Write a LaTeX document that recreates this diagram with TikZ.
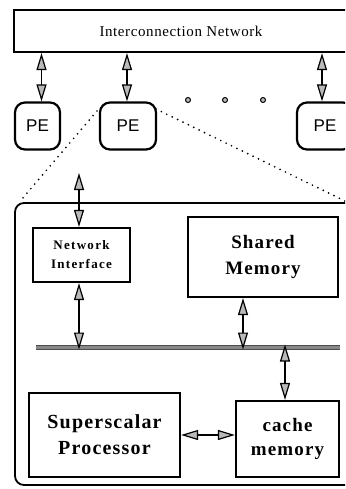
\documentclass[tikz,border=0pt]{standalone}
\usepackage{fontspec}
\usetikzlibrary{arrows.meta,calc}
\newfontfamily\netfont[LetterSpace=4]{Liberation Serif}
\newfontfamily\pefont{Liberation Sans}
\newfontfamily\boxfont[LetterSpace=6]{Liberation Serif}
\newfontfamily\smallboxfont[LetterSpace=10]{Liberation Serif}

\tikzset{
  unitbox/.style={draw, line width=2.2pt, inner sep=0pt, align=center},
  pebox/.style={unitbox, rounded corners=10pt, minimum height=47pt,
    font=\pefont\fontsize{17}{19}\selectfont},
  dbl/.style={{Triangle[length=17pt,width=10pt,fill=gray!55]}-{Triangle[length=17pt,width=10pt,fill=gray!55]}, line width=1.2pt},
  zoomline/.style={line width=1.9pt, line cap=round, dash pattern=on 0pt off 6pt},
  etc/.style={circle, draw, line width=1pt, fill=gray!55, inner sep=0pt, minimum size=5pt}
}

\begin{document}
\begin{tikzpicture}[x=1pt,y=-1pt]
\clip (0,0) rectangle (345,489);
\fill[white] (0,0) rectangle (345,489);

% interconnection network and processing elements
\node[unitbox, minimum width=334pt, minimum height=42pt,
      font=\netfont\fontsize{15}{17}\selectfont] (net) at (181,31) {Interconnection Network};
\node[pebox, minimum width=45pt] (pe1) at (37.5,126) {PE};
\node[pebox, minimum width=56pt] (pe2) at (128,126) {PE};
\node[pebox, minimum width=56pt] (pe3) at (325,126) {PE};

\node[etc] (d1) at (188,100) {};
\node[etc] (d2) at (225,100) {};
\node[etc] (d3) at (263,100) {};

\draw[dbl] ([xshift=4pt]pe1.north |- net.south) -- ([xshift=4pt]pe1.north);
\draw[dbl] ([xshift=-1pt]pe2.north |- net.south) -- ([xshift=-1pt]pe2.north);
\draw[dbl] ([xshift=-3pt]pe3.north |- net.south) -- ([xshift=-3pt]pe3.north);

% enlarged view of one processing element
\coordinate (zl) at (97,111);
\coordinate (zr) at (156,109);
\coordinate (zlend) at (22,199);
\coordinate (zrend) at (345,201);
\draw[zoomline] (zl) -- (zlend);
\draw[zoomline] (zr) -- (zrend);

\draw[line width=1.8pt, rounded corners=9pt] (352,203) -- (15,203) -- (15,485) -- (352,485);

\node[unitbox, minimum width=97pt, minimum height=54pt,
      font=\smallboxfont\bfseries\fontsize{13}{19}\selectfont] (ni) at (81.5,255) {Network\\Interface};
\node[unitbox, minimum width=150pt, minimum height=80pt,
      font=\boxfont\bfseries\fontsize{19}{26}\selectfont] (shm) at (263,257) {Shared\\Memory};
\node[unitbox, minimum width=151pt, minimum height=84pt,
      font=\boxfont\bfseries\fontsize{20}{26}\selectfont] (cpu) at (104.5,435) {Superscalar\\Processor};
\node[unitbox, minimum width=103pt, minimum height=76pt,
      font=\boxfont\bfseries\fontsize{19}{24}\selectfont] (cache) at (287.5,439) {cache\\memory};

% shared bus
\coordinate (busL) at (36,347);
\coordinate (busR) at (340,347);
\draw[line width=5pt, black!70] (busL) -- (busR);
\draw[line width=3pt, gray!45!black!60] (busL) -- (busR);

\coordinate (nitop) at (79,173);
\draw[dbl] (nitop) -- (nitop |- ni.north);
\draw[dbl] (nitop |- ni.south) -- ([yshift=-2.5pt]nitop |- busL);
\draw[dbl] ([xshift=-20pt]shm.south) -- ([xshift=-20pt,yshift=-2.5pt]shm.south |- busL);
\draw[dbl] ([xshift=-2.5pt,yshift=2.5pt]cache.north |- busL) -- ([xshift=-2.5pt]cache.north);
\draw[dbl] (cpu.east) -- (cpu.east -| cache.west);
\end{tikzpicture}
\end{document}
